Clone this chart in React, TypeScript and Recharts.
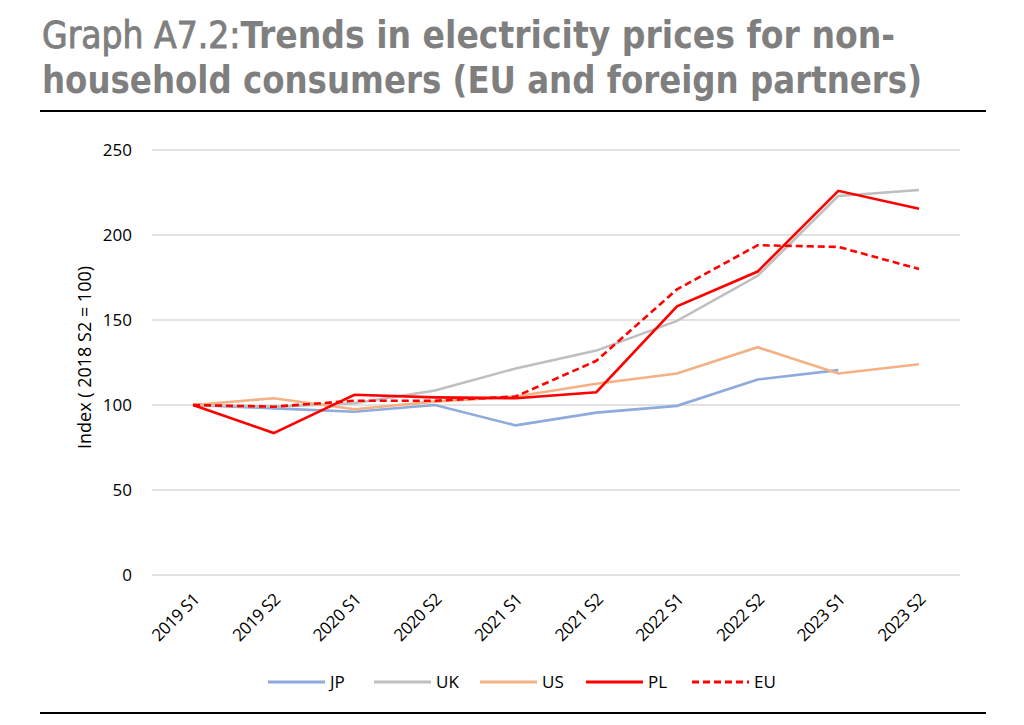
import React from "react";
import { LineChart, Line, XAxis, YAxis, CartesianGrid } from "recharts";

const periods = [
  "2019 S1",
  "2019 S2",
  "2020 S1",
  "2020 S2",
  "2021 S1",
  "2021 S2",
  "2022 S1",
  "2022 S2",
  "2023 S1",
  "2023 S2",
];

const jp = [100, 98, 96, 100, 88, 95.5, 99.5, 115, 120.5, null];
const uk = [100, 99, 101, 108.5, 121.5, 132, 149.5, 176, 223, 226.5];
const us = [100, 104, 97.5, 102, 105, 112.5, 118.5, 134, 118.5, 124];
const pl = [100, 83.5, 106, 104.5, 104, 107.5, 158, 178.5, 226, 215.5];
const eu = [100, 99, 102.5, 102.5, 105, 126, 168, 194, 193, 180];

const yTicks = [0, 50, 100, 150, 200, 250];

const series = [
  { key: "JP", values: jp, color: "#8faadc", dash: undefined },
  { key: "UK", values: uk, color: "#bfbfbf", dash: undefined },
  { key: "US", values: us, color: "#f4b183", dash: undefined },
  { key: "PL", values: pl, color: "#ff0000", dash: undefined },
  { key: "EU", values: eu, color: "#ff0000", dash: "7 4" },
];

const rows = periods.map((p, i) => {
  const row: Record<string, string | number | null> = { period: p };
  series.forEach((s) => {
    row[s.key] = s.values[i];
  });
  return row;
});

const font = "'Open Sans', sans-serif";

// rotated category labels, right end pinned just past the tick
const PeriodTick = (props: any) => {
  const { x, y, payload } = props;
  const ax = x + 3;
  const ay = y + 13;
  return (
    <text
      x={ax}
      y={ay}
      transform={`rotate(-45, ${ax}, ${ay})`}
      textAnchor="end"
      dominantBaseline="central"
      fontSize={17}
      fontFamily={font}
      letterSpacing={-0.5}
      fill="#000"
    >
      {payload.value}
    </text>
  );
};

const LegendRow = () => (
  <div
    style={{
      position: "absolute",
      left: 268,
      top: 670,
      display: "flex",
      alignItems: "center",
      fontFamily: font,
      fontSize: 17,
      color: "#000",
    }}
  >
    {series.map((s) => (
      <div
        key={s.key}
        style={{ display: "flex", alignItems: "center", width: 106 }}
      >
        <svg width={57} height={6}>
          <line
            x1={0}
            y1={3}
            x2={57}
            y2={3}
            stroke={s.color}
            strokeWidth={3}
            strokeDasharray={s.dash}
          />
        </svg>
        <span style={{ marginLeft: 5 }}>{s.key}</span>
      </div>
    ))}
  </div>
);

const Title = () => (
  <svg
    width={1024}
    height={120}
    style={{ position: "absolute", left: 0, top: 0 }}
  >
    <g
      fontFamily="'DejaVu Sans Condensed', 'DejaVu Sans', sans-serif"
      fontSize={37}
      fill="#7f7f7f"
    >
      <text x={42} y={48} textLength={853} lengthAdjust="spacingAndGlyphs">
        <tspan fontWeight={400} stroke="#7f7f7f" strokeWidth={0.9}>
          Graph A7.2:
        </tspan>
        <tspan fontWeight={700}>Trends in electricity prices for non-</tspan>
      </text>
      <text
        x={42}
        y={93}
        fontWeight={700}
        textLength={880}
        lengthAdjust="spacingAndGlyphs"
      >
        household consumers (EU and foreign partners)
      </text>
    </g>
    <rect x={40} y={110} width={946} height={2} fill="#000" />
  </svg>
);

export default function App() {
  return (
    <div
      style={{
        position: "absolute",
        left: 0,
        top: 0,
        width: 1024,
        height: 725,
        background: "#fff",
      }}
    >
      <Title />
      <div style={{ position: "absolute", left: 0, top: 0 }}>
        <LineChart
          width={1024}
          height={725}
          data={rows}
          margin={{ top: 150, right: 64, bottom: 0, left: 0 }}
        >
          <CartesianGrid vertical={false} stroke="#d9d9d9" strokeWidth={1.5} />
          <XAxis
            dataKey="period"
            axisLine={false}
            tickLine={false}
            interval={0}
            height={150}
            padding={{ left: 41, right: 41 }}
            tick={<PeriodTick />}
          />
          <YAxis
            width={152}
            domain={[0, 250]}
            ticks={yTicks}
            axisLine={false}
            tickLine={false}
            tickMargin={14}
            tick={{ fontSize: 17, fontFamily: font, fill: "#000" }}
            label={{
              value: "Index ( 2018 S2 = 100)",
              angle: -90,
              position: "center",
              dx: 9,
              dy: -5,
              style: {
                fontSize: 18,
                fontFamily: font,
                fill: "#000",
                textAnchor: "middle",
              },
            }}
          />
          {series.map((s) => (
            <Line
              key={s.key}
              dataKey={s.key}
              type="linear"
              stroke={s.color}
              strokeWidth={2.6}
              strokeDasharray={s.dash}
              dot={false}
              activeDot={false}
              isAnimationActive={false}
            />
          ))}
        </LineChart>
      </div>
      <LegendRow />
      <div
        style={{
          position: "absolute",
          left: 40,
          top: 712,
          width: 946,
          height: 2,
          background: "#000",
        }}
      />
    </div>
  );
}
